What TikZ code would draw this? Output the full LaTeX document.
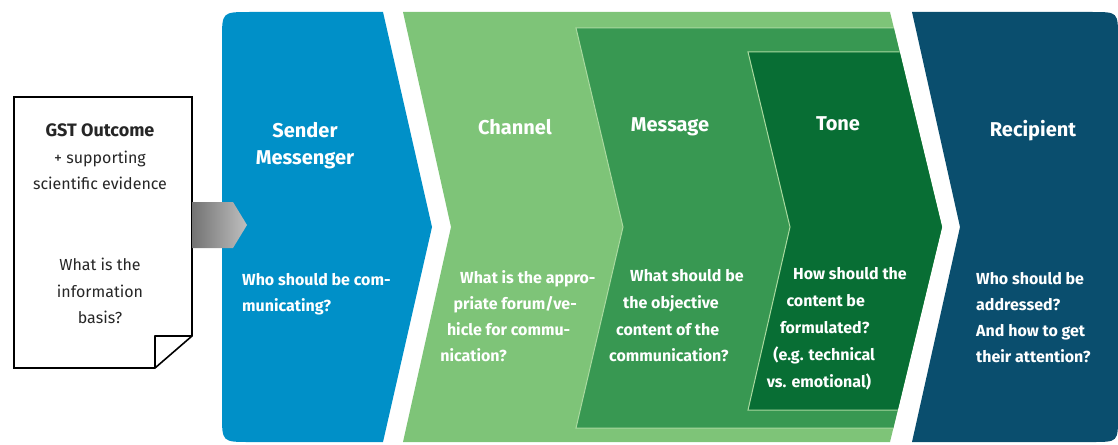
\documentclass[tikz,border=0pt]{standalone}
\usepackage{fontspec}
\setmainfont{Fira Sans}
\usetikzlibrary{calc}
\usetikzlibrary{math}

\definecolor{senderblue}{RGB}{0,144,200}
\definecolor{channelgreen}{RGB}{126,196,120}
\definecolor{messagegreen}{RGB}{56,152,82}
\definecolor{tonegreen}{RGB}{8,110,52}
\definecolor{recipientblue}{RGB}{10,78,110}
\definecolor{edgegreen}{RGB}{170,218,160}

\tikzset{
  head/.style={text=white, anchor=mid, inner sep=0pt, font=\fontsize{20}{27}\selectfont\bfseries},
  body/.style={text=white, anchor=mid west, inner sep=0pt, font=\fontsize{16}{18}\selectfont\bfseries},
  doctext/.style={align=center, text=black!85, inner sep=0pt, font=\fontsize{16}{26.5}\selectfont},
}

\begin{document}
\begin{tikzpicture}[x=1pt, y=-1pt]
  \tikzmath{
    \yT = 12; % top of the band
    \yB = 442;
    \yM = 227; % chevron tips
  }
\useasboundingbox (0,0) rectangle (1118,444);

% sender
\fill[senderblue] (383,\yT) -- (250,\yT) .. controls (222,\yT) .. (222,40)
  -- (222,414) .. controls (222,\yB) .. (250,\yB) -- (383,\yB) -- (432,\yM) -- cycle;

% channel, message, tone
\fill[channelgreen] (403,\yT) -- (890,\yT) -- (942,\yM) -- (890,\yB) -- (403,\yB) -- (451,\yM) -- cycle;
\begin{scope}
  \clip (403,\yT) -- (890,\yT) -- (942,\yM) -- (890,\yB) -- (403,\yB) -- cycle;
  \filldraw[fill=messagegreen, draw=edgegreen, line width=1pt]
    (576,28) -- (980,28) -- (980,428) -- (576,428) -- (623,\yM) -- cycle;
  \filldraw[fill=tonegreen, draw=edgegreen, line width=1pt]
    (748,52) -- (980,52) -- (980,410) -- (748,410) -- (790,\yM) -- cycle;
\end{scope}

% recipient
\fill[recipientblue] (912,\yT) -- (1092,\yT) .. controls (1118,\yT) .. (1118,38)
  -- (1118,416) .. controls (1118,\yB) .. (1092,\yB) -- (912,\yB) -- (960,\yM) -- cycle;

% the document
\draw[line width=1.6pt, fill=white] (14,97) -- (192,97) -- (192,336) -- (155,368) -- (14,368) -- cycle;
\draw[line width=1.6pt, line join=bevel] (192,336) -- (155,336) -- (155,368);
\shade[left color=black!55, right color=black!25] (192,202) -- (233,202) -- (247,225) -- (233,248) -- (192,248) -- cycle;

\node[doctext] (gst) at (100,157) {{\bfseries\fontsize{18}{26.5}\selectfont GST Outcome}\\+ supporting\\scientific evidence};
\node[doctext] (basis) at (100,291) {What is the\\information\\basis?};

\node[head, align=center] (sender) at (305,162) {Sender\\Messenger};
\node[head] (channel) at (515,132) {Channel};
\node[head] (message) at (670,129) {Message};
\node[head] (tone) at (838,128) {Tone};
\node[head] (recipient) at (1033,134) {Recipient};

\foreach \t [count=\i] in {{Who should be com-}, {municating?}}
  \node[body] (sender-\i) at (242, 283+26*\i-26) {\t};
\foreach \t [count=\i] in {{What is the appro-}, {priate forum/ve-}, {hicle for commu-}, {nication?}}
  \node[body] (channel-\i) at (460-6.6*\i+6.6, 281+26*\i-26) {\t};
\foreach \t [count=\i] in {{What should be}, {the objective}, {content of the}, {communication?}}
  \node[body] (message-\i) at (630-7*\i+7, 279+26.7*\i-26.7) {\t};
\foreach \t [count=\i] in {{How should the}, {content be}, {formulated?}, {(e.g. technical}, {vs. emotional)}}
  \node[body] (tone-\i) at (793-6.6*\i+6.6, 277+27*\i-27) {\t};
\foreach \t [count=\i] in {{Who should be}, {addressed?}, {And how to get}, {their attention?}}
  \node[body] (recipient-\i) at (976, 282+26*\i-26) {\t};

\end{tikzpicture}
\end{document}
